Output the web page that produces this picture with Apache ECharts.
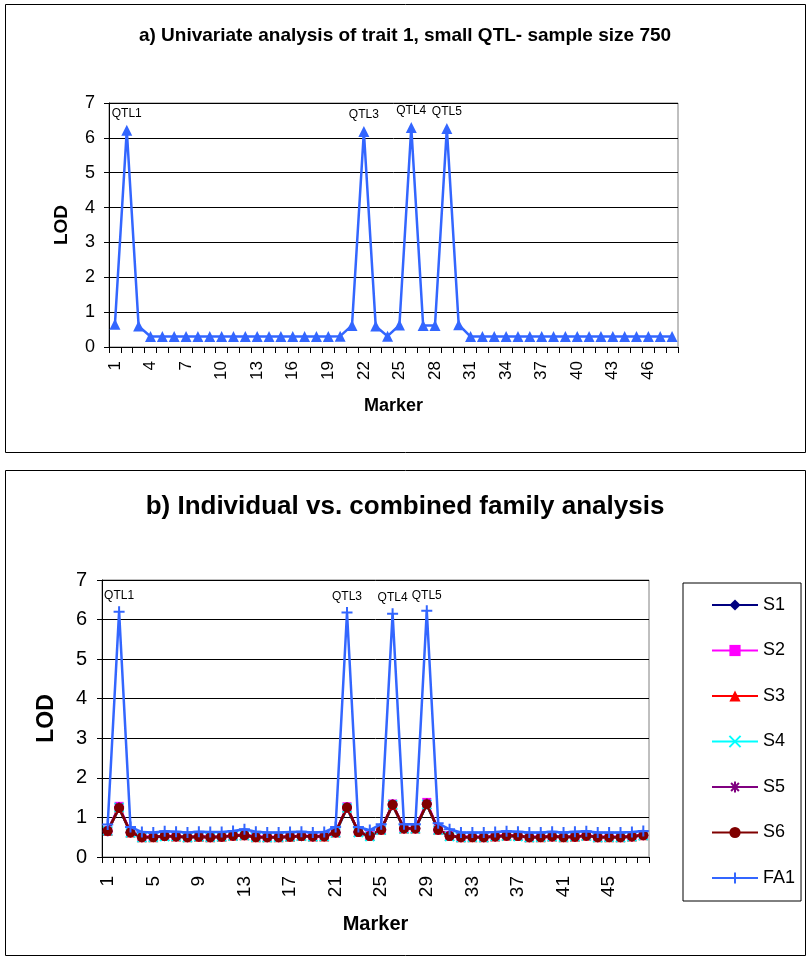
<!DOCTYPE html>
<html>
<head>
<meta charset="utf-8">
<title>LOD profiles</title>
<script src="https://cdn.jsdelivr.net/npm/echarts@6/dist/echarts.min.js"></script>
<style>
  html, body { margin: 0; padding: 0; background: #fff; }
  #chart { width: 810px; height: 960px; }
</style>
</head>
<body>
<div id="chart"></div>
<script>
// Marker positions 1..48
const markers = [];
for (let i = 1; i <= 48; i++) markers.push(String(i));

const yTicks = [0, 1, 2, 3, 4, 5, 6, 7];

// a) Univariate analysis, trait 1
const univariateLOD = [
  0.65, 6.22, 0.60, 0.30, 0.30, 0.30, 0.30, 0.30, 0.30, 0.30,
  0.30, 0.30, 0.30, 0.30, 0.30, 0.30, 0.30, 0.30, 0.30, 0.31,
  0.62, 6.18, 0.60, 0.31, 0.63, 6.30, 0.62, 0.62, 6.27, 0.64,
  0.30, 0.30, 0.30, 0.30, 0.30, 0.30, 0.30, 0.30, 0.30, 0.30,
  0.30, 0.30, 0.30, 0.30, 0.30, 0.30, 0.30, 0.30
];

// b) Individual families S1..S6 and combined family analysis FA1
const s1 = [
  0.65, 1.24, 0.62, 0.50, 0.50, 0.52, 0.52, 0.50, 0.51, 0.50,
  0.51, 0.53, 0.55, 0.50, 0.50, 0.50, 0.51, 0.52, 0.52, 0.52,
  0.62, 1.24, 0.63, 0.53, 0.68, 1.31, 0.72, 0.72, 1.33, 0.69,
  0.53, 0.50, 0.50, 0.50, 0.52, 0.54, 0.53, 0.50, 0.50, 0.52,
  0.50, 0.51, 0.54, 0.50, 0.50, 0.50, 0.52, 0.55
];
const s2 = [
  0.67, 1.28, 0.63, 0.51, 0.51, 0.53, 0.53, 0.51, 0.52, 0.51,
  0.52, 0.55, 0.56, 0.51, 0.51, 0.51, 0.52, 0.54, 0.53, 0.53,
  0.63, 1.27, 0.64, 0.54, 0.70, 1.34, 0.73, 0.73, 1.38, 0.70,
  0.54, 0.51, 0.51, 0.51, 0.53, 0.55, 0.54, 0.51, 0.51, 0.53,
  0.51, 0.52, 0.55, 0.51, 0.51, 0.51, 0.53, 0.56
];
const s3 = [
  0.66, 1.25, 0.62, 0.50, 0.50, 0.53, 0.52, 0.50, 0.51, 0.50,
  0.51, 0.54, 0.55, 0.50, 0.50, 0.50, 0.51, 0.53, 0.52, 0.52,
  0.62, 1.25, 0.63, 0.53, 0.69, 1.32, 0.72, 0.72, 1.34, 0.69,
  0.53, 0.50, 0.50, 0.50, 0.52, 0.54, 0.53, 0.50, 0.50, 0.52,
  0.50, 0.51, 0.54, 0.50, 0.50, 0.50, 0.52, 0.55
];
const s4 = [
  0.66, 1.25, 0.61, 0.49, 0.50, 0.52, 0.52, 0.49, 0.51, 0.50,
  0.51, 0.53, 0.54, 0.50, 0.49, 0.50, 0.51, 0.53, 0.51, 0.52,
  0.61, 1.24, 0.62, 0.52, 0.68, 1.32, 0.71, 0.71, 1.33, 0.68,
  0.52, 0.49, 0.50, 0.49, 0.52, 0.53, 0.52, 0.49, 0.50, 0.51,
  0.50, 0.51, 0.53, 0.49, 0.50, 0.49, 0.51, 0.54
];
const s5 = [
  0.65, 1.26, 0.62, 0.50, 0.51, 0.53, 0.52, 0.50, 0.52, 0.50,
  0.51, 0.54, 0.55, 0.51, 0.50, 0.50, 0.52, 0.53, 0.52, 0.53,
  0.62, 1.25, 0.63, 0.53, 0.69, 1.33, 0.72, 0.72, 1.35, 0.69,
  0.53, 0.50, 0.51, 0.50, 0.52, 0.54, 0.53, 0.50, 0.51, 0.52,
  0.51, 0.51, 0.54, 0.50, 0.51, 0.50, 0.52, 0.55
];
const s6 = [
  0.66, 1.24, 0.62, 0.50, 0.50, 0.53, 0.52, 0.50, 0.51, 0.50,
  0.51, 0.54, 0.55, 0.50, 0.50, 0.50, 0.51, 0.53, 0.52, 0.52,
  0.62, 1.25, 0.63, 0.53, 0.69, 1.32, 0.72, 0.72, 1.33, 0.69,
  0.53, 0.50, 0.50, 0.50, 0.52, 0.54, 0.53, 0.50, 0.50, 0.52,
  0.50, 0.51, 0.54, 0.50, 0.50, 0.50, 0.52, 0.55
];
const fa1 = [
  0.82, 6.20, 0.76, 0.63, 0.62, 0.65, 0.64, 0.62, 0.64, 0.63,
  0.63, 0.66, 0.70, 0.64, 0.62, 0.62, 0.63, 0.64, 0.62, 0.63,
  0.76, 6.18, 0.76, 0.68, 0.83, 6.15, 0.83, 0.83, 6.22, 0.85,
  0.70, 0.62, 0.62, 0.62, 0.63, 0.65, 0.64, 0.62, 0.62, 0.64,
  0.62, 0.64, 0.65, 0.62, 0.62, 0.62, 0.63, 0.66
];

// QTL annotations keyed by marker number
const qtlNames = { 2: 'QTL1', 22: 'QTL3', 26: 'QTL4', 29: 'QTL5' };

const FONT = '"Liberation Sans", Arial, Helvetica, sans-serif';
const BLUE = '#3366ff';

function withQtlLabels(values, dist) {
  return values.map((v, i) => {
    const name = qtlNames[i + 1];
    if (!name) return v;
    return {
      value: v,
      label: {
        show: true, position: 'top', distance: dist,
        formatter: name, color: '#000', fontSize: 12, fontFamily: FONT
      }
    };
  });
}

function yAxisCfg(gridIndex, fontSize, nameSize, nameGap, labelMargin) {
  return {
    gridIndex, type: 'value', min: 0, max: 7, interval: 1,
    name: 'LOD', nameLocation: 'middle', nameRotate: 90, nameGap,
    nameTextStyle: { fontFamily: FONT, fontWeight: 'bold', fontSize: nameSize, color: '#000' },
    axisLine: { show: true, lineStyle: { color: '#000', width: 1 } },
    axisTick: { show: true, inside: false, length: 5, lineStyle: { color: '#000' } },
    axisLabel: {
      fontFamily: FONT, fontSize, color: '#000', margin: labelMargin,
      formatter: v => (yTicks.indexOf(v) >= 0 ? String(v) : '')
    },
    splitLine: { show: true, lineStyle: { color: '#000', width: 1 } }
  };
}

function xAxisCfg(gridIndex, labelInterval, fontSize, nameSize, nameGap, labelMargin) {
  return {
    gridIndex, type: 'category', data: markers, boundaryGap: true,
    name: 'Marker', nameLocation: 'middle', nameGap,
    nameTextStyle: { fontFamily: FONT, fontWeight: 'bold', fontSize: nameSize, color: '#000' },
    axisLine: { show: true, onZero: false, lineStyle: { color: '#000', width: 1 } },
    axisTick: { show: true, interval: 0, alignWithLabel: false, length: 6, lineStyle: { color: '#000' } },
    axisLabel: {
      interval: labelInterval, rotate: 90, fontFamily: FONT, fontSize,
      color: '#000', margin: labelMargin
    },
    splitLine: { show: false }
  };
}

const familySeries = [
  { name: 'S1', data: s1, color: '#000080', symbol: 'diamond', size: 10 },
  { name: 'S2', data: s2, color: '#ff00ff', symbol: 'rect', size: 9 },
  { name: 'S3', data: s3, color: '#ff0000', symbol: 'triangle', size: 10 },
  { name: 'S4', data: s4, color: '#00ffff', symbol: 'path://M0,0L10,10M10,0L0,10', size: 9, stroke: true },
  { name: 'S5', data: s5, color: '#800080', symbol: 'path://M5,0L5,10M0,5L10,5M1.5,1.5L8.5,8.5M8.5,1.5L1.5,8.5', size: 10, stroke: true },
  { name: 'S6', data: s6, color: '#800000', symbol: 'circle', size: 10 }
].map(s => ({
  name: s.name, type: 'line', xAxisIndex: 1, yAxisIndex: 1,
  data: s.data, symbol: s.symbol, symbolSize: s.size, showAllSymbol: true,
  lineStyle: { color: s.color, width: 2.5 },
  itemStyle: s.stroke
    ? { color: s.color, borderColor: s.color, borderWidth: 2 }
    : { color: s.color, borderWidth: 0 },
  emphasis: { disabled: true },
  animation: false, z: 2
}));

const option = {
  backgroundColor: '#ffffff',
  animation: false,
  title: [
    {
      text: 'a) Univariate analysis of trait 1, small QTL- sample size 750',
      left: 'center', top: 21,
      textStyle: { fontFamily: FONT, fontWeight: 'bold', fontSize: 19, color: '#000' }
    },
    {
      text: 'b) Individual vs. combined family analysis',
      left: 'center', top: 489,
      textStyle: { fontFamily: FONT, fontWeight: 'bold', fontSize: 26, color: '#000' }
    }
  ],
  graphic: [
    { type: 'rect', shape: { x: 5.5, y: 4.5, width: 800, height: 448 },
      style: { fill: 'none', stroke: '#000', lineWidth: 1 }, z: -1 },
    { type: 'rect', shape: { x: 5.5, y: 470.5, width: 800, height: 485 },
      style: { fill: 'none', stroke: '#000', lineWidth: 1 }, z: -1 }
  ],
  legend: {
    orient: 'vertical', left: 683, top: 583,
    padding: [13, 6, 14, 28],
    itemWidth: 46, itemHeight: 14, itemGap: 27.5,
    borderColor: '#000', borderWidth: 1,
    textStyle: { fontFamily: FONT, fontSize: 18, color: '#000', lineHeight: 14 },
    data: ['S1', 'S2', 'S3', 'S4', 'S5', 'S6', 'FA1']
  },
  grid: [
    { left: 109, right: 132, top: 103, bottom: 613, show: true,
      borderColor: '#808080', borderWidth: 1, backgroundColor: 'transparent' },
    { left: 102, right: 161, top: 580, bottom: 103, show: true,
      borderColor: '#808080', borderWidth: 1, backgroundColor: 'transparent' }
  ],
  xAxis: [
    xAxisCfg(0, 2, 17, 18, 50, 14),
    xAxisCfg(1, 3, 19, 20, 57, 19)
  ],
  yAxis: [
    yAxisCfg(0, 18, 19, 38, 14),
    yAxisCfg(1, 20, 23, 44, 15)
  ],
  series: [
    {
      name: 'Trait 1', type: 'line', xAxisIndex: 0, yAxisIndex: 0,
      data: withQtlLabels(univariateLOD, 5),
      symbol: 'triangle', symbolSize: 11, showAllSymbol: true,
      lineStyle: { color: BLUE, width: 2.5 },
      itemStyle: { color: BLUE },
      emphasis: { disabled: true }
    },
    ...familySeries,
    {
      name: 'FA1', type: 'line', xAxisIndex: 1, yAxisIndex: 1,
      data: withQtlLabels(fa1, 3),
      symbol: 'path://M5,0L5,10M0,5L10,5', symbolSize: 11, showAllSymbol: true,
      lineStyle: { color: BLUE, width: 2.5 },
      itemStyle: { color: BLUE, borderColor: BLUE, borderWidth: 2 },
      emphasis: { disabled: true }, z: 3
    }
  ]
};

const chart = echarts.init(document.getElementById('chart'), null, { renderer: 'canvas' });
chart.setOption(option);
</script>
</body>
</html>
